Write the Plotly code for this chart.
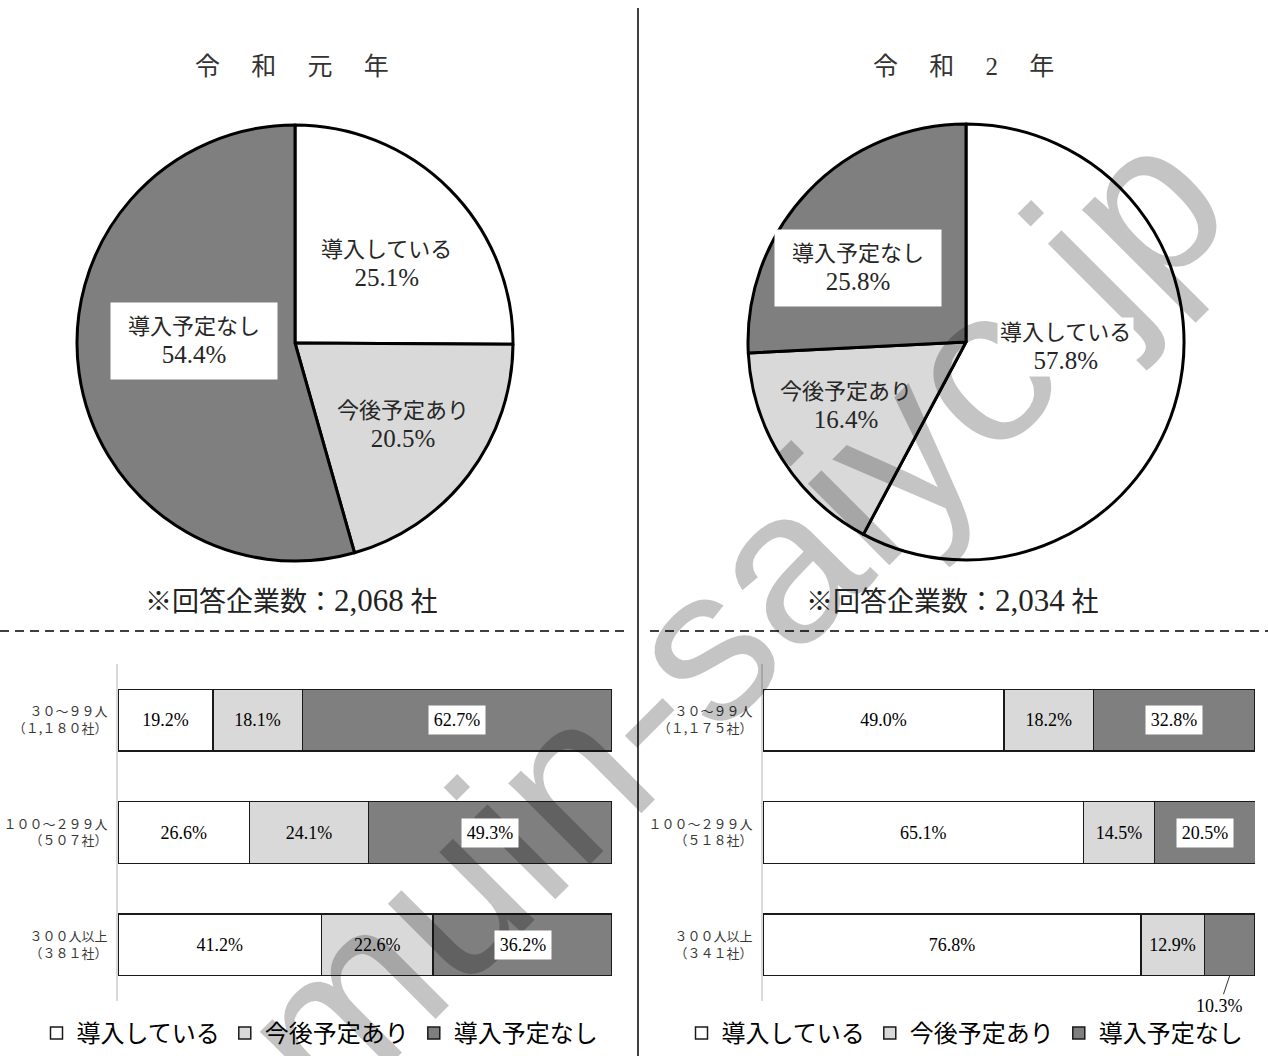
import math
import plotly.graph_objects as go

# ---------------- data ----------------
pie_labels = ["導入している", "今後予定あり", "導入予定なし"]
pie_r1_values = [25.1, 20.5, 54.4]
pie_r2_values = [57.8, 16.4, 25.8]

title_r1 = "令　 和　 元　 年"
title_r2 = "令　 和　 2　 年"
note_r1_label = "※回答企業数："
note_r1_count = "2,068"
note_r2_label = "※回答企業数："
note_r2_count = "2,034"
note_unit = " 社"

bar_cats_r1 = ["３０～９９人<br>（１,１８０社）", "１００～２９９人<br>（５０７社）", "３００人以上<br>（３８１社）"]
bar_cats_r2 = ["３０～９９人<br>（１,１７５社）", "１００～２９９人<br>（５１８社）", "３００人以上<br>（３４１社）"]

bar_r1_yes = [19.2, 26.6, 41.2]
bar_r1_plan = [18.1, 24.1, 22.6]
bar_r1_no = [62.7, 49.3, 36.2]

bar_r2_yes = [49.0, 65.1, 76.8]
bar_r2_plan = [18.2, 14.5, 12.9]
bar_r2_no = [32.8, 20.5, 10.3]

# ---------------- styles ----------------
W, H = 1268, 1056
COLORS = ["#ffffff", "#d9d9d9", "#7f7f7f"]
SERIF = "Liberation Serif, 'Noto Sans CJK JP', serif"
GOTHIC = "'Noto Sans CJK JP', sans-serif"
TXT = "#262626"


def px(x):
    return x / W


def py(y):
    return 1 - y / H


PIE_R = 218
pie_centers = [(295, 343), (966, 342)]
# label placement: fraction of radius along slice mid-angle, plus a pixel nudge
label_rf = [[0.55, 0.62, 0.47], [0.46, 0.62, 0.59]]
label_nudge = [[(6, 6), (0, 0), (0, -16)], [(2, -19), (-6, -8), (-15, 15)]]

fig = go.Figure()

annotations = []

# watermark (drawn first so label boxes sit above it)
annotations.append(dict(
    text="muin-saiyo.jp", x=px(731), y=py(616), xref="paper", yref="paper",
    showarrow=False, textangle=-45, xanchor="center", yanchor="middle",
    font=dict(family="Liberation Sans, Arial, sans-serif", size=218, color="rgba(0,0,0,0.23)"),
))

for k, vals in enumerate([pie_r1_values, pie_r2_values]):
    cx, cy = pie_centers[k]
    fig.add_trace(go.Pie(
        labels=pie_labels, values=vals, sort=False, direction="clockwise", rotation=0,
        marker=dict(colors=COLORS, line=dict(color="black", width=3)),
        textinfo="none", hoverinfo="label+percent", showlegend=False,
        domain=dict(x=[px(cx - PIE_R), px(cx + PIE_R)], y=[py(cy + PIE_R), py(cy - PIE_R)]),
    ))
    total = sum(vals)
    cum = 0.0
    for i, v in enumerate(vals):
        mid = (cum + v / 2) / total * 2 * math.pi
        cum += v
        r = label_rf[k][i] * PIE_R
        dx, dy = label_nudge[k][i]
        lx = cx + r * math.sin(mid) + dx
        ly = cy - r * math.cos(mid) + dy
        ann = dict(
            text=f"{pie_labels[i]}<br><span style='font-size:25px'>{v:.1f}%</span>",
            x=px(lx), y=py(ly), xref="paper", yref="paper",
            showarrow=False, xanchor="center", yanchor="middle", align="center",
            font=dict(family=SERIF, size=22, color=TXT),
        )
        if i == 2:
            ann.update(bgcolor="white", width=150, height=60, borderpad=8)
        elif i == 0:
            ann.update(bgcolor="white", borderpad=2)
        annotations.append(ann)

# titles and notes
for (cx, _), t in zip(pie_centers, [title_r1, title_r2]):
    annotations.append(dict(text=t, x=px(cx - 3), y=py(66), xref="paper", yref="paper",
                            showarrow=False, xanchor="center", yanchor="middle",
                            font=dict(family=SERIF, size=25, color="#333333")))
for xc, lab, cnt in zip([291, 952], [note_r1_label, note_r2_label], [note_r1_count, note_r2_count]):
    annotations.append(dict(text=f"{lab}<span style='font-size:31px'>{cnt}</span>{note_unit}",
                            x=px(xc), y=py(600), xref="paper", yref="paper",
                            showarrow=False, xanchor="center", yanchor="middle",
                            font=dict(family=SERIF, size=27, color="#222222")))

# ---------------- bars ----------------
bar_sets = [
    (bar_cats_r1, bar_r1_yes, bar_r1_plan, bar_r1_no, "x", "y", "legend"),
    (bar_cats_r2, bar_r2_yes, bar_r2_plan, bar_r2_no, "x2", "y2", "legend2"),
]
BAR_HALF = (1 - 0.45) / 2
BAR_FONT = 18

for cats, yes, plan, no, xa, ya, lg in bar_sets:
    for name, vals, col, txt in [
        (pie_labels[0], yes, COLORS[0], True),
        (pie_labels[1], plan, COLORS[1], True),
        (pie_labels[2], no, COLORS[2], False),
    ]:
        fig.add_trace(go.Bar(
            y=cats, x=vals, name=name, orientation="h", xaxis=xa, yaxis=ya, legend=lg,
            marker=dict(color=col, line=dict(color="#1a1a1a", width=1.5)),
            text=[f"{v:.1f}%" for v in vals] if txt else None,
            textposition="inside" if txt else "none", insidetextanchor="middle",
            textangle=0, textfont=dict(family=SERIF, size=BAR_FONT, color="black"),
            hoverinfo="x+y",
        ))
    # labels for the dark segment
    for j, (c, a, b, v) in enumerate(zip(cats, yes, plan, no)):
        mid = a + b + v / 2
        if v >= 15:
            annotations.append(dict(
                text=f"{v:.1f}%", x=mid, y=c, xref=xa, yref=ya, showarrow=False,
                xanchor="center", yanchor="middle", bgcolor="white", width=50, height=22,
                borderpad=3, font=dict(family=SERIF, size=BAR_FONT, color="black"),
            ))
        else:
            annotations.append(dict(
                text=f"{v:.1f}%", x=mid, y=j + BAR_HALF, xref=xa, yref=ya, showarrow=True,
                arrowhead=0, arrowwidth=1, arrowcolor="#333333", ax=-10, ay=30, standoff=0,
                font=dict(family=SERIF, size=BAR_FONT, color="black"),
            ))

yaxis_common = dict(
    autorange="reversed", showline=True, linecolor="#d9d9d9", linewidth=2, ticks="",
    showgrid=False, zeroline=False, ticklabelstandoff=6,
    tickfont=dict(family=GOTHIC, size=13, color="#383838"),
    domain=[py(1001), py(664)],
)
xaxis_common = dict(range=[0, 100], visible=False, showgrid=False, zeroline=False)

legend_common = dict(
    orientation="h", xanchor="center", yanchor="bottom", y=0,
    font=dict(family=GOTHIC, size=24, color="black"), itemwidth=30,
    bgcolor="rgba(0,0,0,0)", traceorder="normal", itemclick=False, itemdoubleclick=False,
)

shapes = [
    dict(type="line", xref="paper", yref="paper", x0=px(638), x1=px(638), y0=py(8), y1=0,
         line=dict(color="black", width=1.5)),
    dict(type="line", xref="paper", yref="paper", x0=0, x1=px(625), y0=py(631), y1=py(631),
         line=dict(color="black", width=1.5, dash="9px,6px")),
    dict(type="line", xref="paper", yref="paper", x0=px(650), x1=1, y0=py(631), y1=py(631),
         line=dict(color="black", width=1.5, dash="9px,6px")),
]

fig.update_layout(
    width=W, height=H, autosize=False,
    margin=dict(l=0, r=0, t=0, b=0, pad=0, autoexpand=False),
    paper_bgcolor="white", plot_bgcolor="white",
    barmode="stack", bargap=0.45,
    xaxis=dict(domain=[px(118), px(612)], anchor="y", **xaxis_common),
    yaxis=dict(anchor="x", categoryorder="array", categoryarray=bar_cats_r1, **yaxis_common),
    xaxis2=dict(domain=[px(763), px(1255)], anchor="y2", **xaxis_common),
    yaxis2=dict(anchor="x2", categoryorder="array", categoryarray=bar_cats_r2, **yaxis_common),
    legend=dict(x=px(320), **legend_common),
    legend2=dict(x=px(965), **legend_common),
    uniformtext=dict(minsize=BAR_FONT, mode="show"),
    annotations=annotations,
    shapes=shapes,
)

fig.write_html("out.html")
